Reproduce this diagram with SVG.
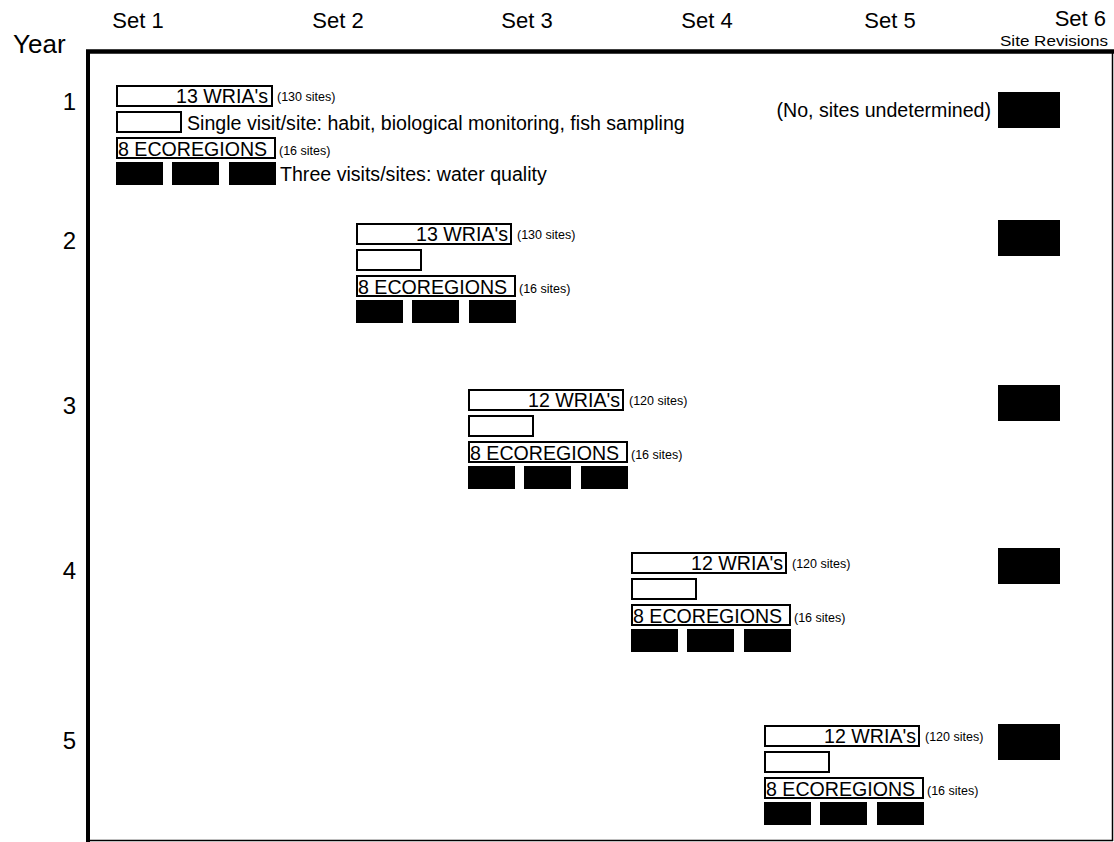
<svg xmlns="http://www.w3.org/2000/svg" xmlns:xlink="http://www.w3.org/1999/xlink" width="1114" height="842" viewBox="0 0 1114 842">
<style>
text{font-family:"Liberation Sans",Arial,sans-serif;fill:#000}
.hdr{font-size:22px}
.yr{font-size:24px}
.lbl{font-size:19.6px}
.sm{font-size:12.5px}
.ob{fill:#fff;stroke:#000;stroke-width:2}
.bk{fill:#000}
</style>
<defs>
<g id="blk">
<rect class="ob" x="1" y="27" width="64" height="20"/>
<rect class="ob" x="1" y="53" width="158" height="20"/>
<rect class="bk" x="0" y="77" width="47" height="23"/>
<rect class="bk" x="56" y="77" width="47" height="23"/>
<rect class="bk" x="113" y="77" width="47" height="23"/>
<text class="lbl" x="2" y="71">8 ECOREGIONS</text>
<text class="sm" x="163" y="70">(16 sites)</text>
</g>
</defs>
<rect x="0" y="0" width="1114" height="842" fill="#fff"/>
<g id="frame" fill="none" stroke="#000">
<line x1="88" y1="51" x2="88" y2="842" stroke-width="4"/>
<line x1="86" y1="51.5" x2="1114" y2="51.5" stroke-width="4.5"/>
<line x1="1112.5" y1="51" x2="1112.5" y2="841" stroke-width="1.5"/>
<line x1="88" y1="840.5" x2="1113" y2="840.5" stroke-width="1.5"/>
</g>
<g id="headers">
<text class="hdr" x="138" y="28" text-anchor="middle">Set 1</text>
<text class="hdr" x="338" y="28" text-anchor="middle">Set 2</text>
<text class="hdr" x="527" y="28" text-anchor="middle">Set 3</text>
<text class="hdr" x="707" y="28" text-anchor="middle">Set 4</text>
<text class="hdr" x="890" y="28" text-anchor="middle">Set 5</text>
<text class="hdr" x="1106" y="26" text-anchor="end">Set 6</text>
<text x="1108" y="46" text-anchor="end" font-size="15" textLength="108" lengthAdjust="spacingAndGlyphs">Site Revisions</text>
<text x="13" y="53" font-size="26">Year</text>
</g>
<g id="year-labels">
<text class="yr" x="76" y="110" text-anchor="end">1</text>
<text class="yr" x="76" y="249" text-anchor="end">2</text>
<text class="yr" x="76" y="414" text-anchor="end">3</text>
<text class="yr" x="76" y="579" text-anchor="end">4</text>
<text class="yr" x="76" y="749" text-anchor="end">5</text>
</g>
<g id="year1" transform="translate(116,85)">
<rect class="ob" x="1" y="1" width="155" height="20"/>
<text class="lbl" x="152" y="18" text-anchor="end">13 WRIA's</text>
<text class="sm" x="161" y="16">(130 sites)</text>
<use xlink:href="#blk"/>
<text class="lbl" x="71" y="45">Single visit/site: habit, biological monitoring, fish sampling</text>
<text class="lbl" x="164" y="96">Three visits/sites: water quality</text>
</g>
<g id="year2" transform="translate(356,223)">
<rect class="ob" x="1" y="1" width="154" height="20"/>
<text class="lbl" x="152" y="18" text-anchor="end">13 WRIA's</text>
<text class="sm" x="161" y="16">(130 sites)</text>
<use xlink:href="#blk"/>
</g>
<g id="year3" transform="translate(468,389)">
<rect class="ob" x="1" y="1" width="154" height="20"/>
<text class="lbl" x="152" y="18" text-anchor="end">12 WRIA's</text>
<text class="sm" x="161" y="16">(120 sites)</text>
<use xlink:href="#blk"/>
</g>
<g id="year4" transform="translate(631,552)">
<rect class="ob" x="1" y="1" width="154" height="20"/>
<text class="lbl" x="152" y="18" text-anchor="end">12 WRIA's</text>
<text class="sm" x="161" y="16">(120 sites)</text>
<use xlink:href="#blk"/>
</g>
<g id="year5" transform="translate(764,725)">
<rect class="ob" x="1" y="1" width="154" height="20"/>
<text class="lbl" x="152" y="18" text-anchor="end">12 WRIA's</text>
<text class="sm" x="161" y="16">(120 sites)</text>
<use xlink:href="#blk"/>
</g>
<g id="set6">
<text class="lbl" x="991" y="117" text-anchor="end">(No, sites undetermined)</text>
<rect class="bk" x="998" y="92" width="62" height="36"/>
<rect class="bk" x="998" y="220" width="62" height="36"/>
<rect class="bk" x="998" y="385" width="62" height="36"/>
<rect class="bk" x="998" y="548" width="62" height="36"/>
<rect class="bk" x="998" y="724" width="62" height="36"/>
</g>
<g id="connectors"/>
</svg>
